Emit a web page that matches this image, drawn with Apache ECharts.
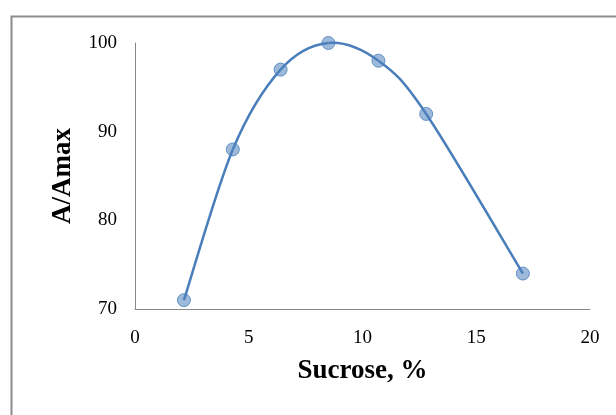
<!DOCTYPE html>
<html>
<head>
<meta charset="utf-8">
<script src="https://cdn.jsdelivr.net/npm/echarts@6/dist/echarts.min.js"></script>
<style>html,body{margin:0;padding:0;background:#fff;}#c{width:616px;height:415px;}</style>
</head>
<body>
<div id="c"></div>
<script>
var sucrose = [2.15, 4.3, 6.4, 8.5, 10.7, 12.8, 17.05];
var aAmax = [71, 88, 97, 100, 98, 92, 74];
var xTicks = [0, 5, 10, 15, 20];
var yTicks = [70, 80, 90, 100];

var points = sucrose.map(function (x, i) { return [x, aAmax[i]]; });
var chart = echarts.init(document.getElementById('c'));
var serif = "'Liberation Serif', 'Times New Roman', serif";

// Excel-style smoothed line: cubic Bezier segments (Catmull-Rom, tension 1/6)
function renderSegment(params, api) {
  var i = params.dataIndex;
  var n = points.length;
  if (i >= n - 1) return null;
  var P = function (k) {
    k = Math.max(0, Math.min(n - 1, k));
    return api.coord(points[k]);
  };
  var p0 = P(i - 1), p1 = P(i), p2 = P(i + 1), p3 = P(i + 2);
  var c1 = [p1[0] + (p2[0] - p0[0]) / 6, p1[1] + (p2[1] - p0[1]) / 6];
  var c2 = [p2[0] - (p3[0] - p1[0]) / 6, p2[1] - (p3[1] - p1[1]) / 6];
  return {
    type: 'bezierCurve',
    shape: { x1: p1[0], y1: p1[1], x2: p2[0], y2: p2[1], cpx1: c1[0], cpy1: c1[1], cpx2: c2[0], cpy2: c2[1] },
    style: { stroke: '#4a7ebb', lineWidth: 2.5, fill: null },
    silent: true
  };
}

chart.setOption({
  animation: false,
  backgroundColor: '#fff',
  graphic: [{
    type: 'rect', left: 9, top: 14, silent: true,
    shape: { width: 700, height: 500 },
    style: { fill: 'none', stroke: '#8c8c8c', lineWidth: 2 }
  }],
  grid: { left: 135, right: 26, top: 43, bottom: 106 },
  xAxis: {
    type: 'value', min: xTicks[0], max: xTicks[xTicks.length - 1], interval: 5,
    name: 'Sucrose, %', nameLocation: 'middle', nameGap: 49,
    nameTextStyle: { fontFamily: serif, fontWeight: 'bold', fontSize: 27, color: '#000' },
    axisLine: { show: true, lineStyle: { color: '#888', width: 1 } },
    axisTick: { show: false },
    splitLine: { show: false },
    axisLabel: { margin: 20, fontFamily: serif, fontSize: 19, color: '#000' }
  },
  yAxis: {
    type: 'value', min: yTicks[0], max: yTicks[yTicks.length - 1], interval: 10,
    name: 'A/Amax', nameLocation: 'middle', nameGap: 58,
    nameTextStyle: { fontFamily: serif, fontWeight: 'bold', fontSize: 27, color: '#000' },
    axisLine: { show: true, lineStyle: { color: '#888', width: 1 } },
    axisTick: { show: false },
    splitLine: { show: false },
    axisLabel: { margin: 18, fontFamily: serif, fontSize: 19, color: '#000' }
  },
  series: [{
    type: 'custom',
    data: points,
    renderItem: renderSegment,
    clip: false,
    z: 2
  }, {
    type: 'scatter',
    data: points,
    symbol: 'circle',
    symbolSize: 13,
    z: 3,
    itemStyle: { color: 'rgba(79,129,189,0.55)', borderColor: 'rgba(74,126,187,0.8)', borderWidth: 1, opacity: 1 }
  }]
});
</script>
</body>
</html>
